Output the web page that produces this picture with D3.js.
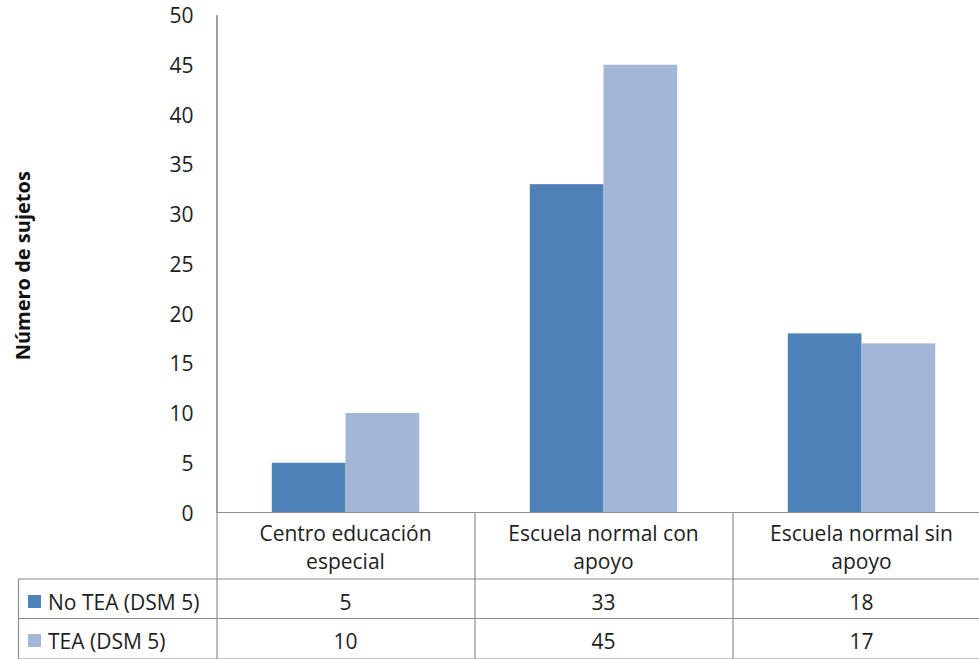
<!DOCTYPE html>
<html>
<head>
<meta charset="utf-8">
<script src="https://cdnjs.cloudflare.com/ajax/libs/d3/7.8.5/d3.min.js"></script>
<style>
  html, body { margin: 0; padding: 0; background: #fff; }
  svg { display: block; font-family: "Open Sans", "Noto Sans", sans-serif; }
</style>
</head>
<body>
<svg id="chart" width="979" height="659"></svg>
<script>
// Data
const categories = [
  ["Centro educación", "especial"],
  ["Escuela normal con", "apoyo"],
  ["Escuela normal sin", "apoyo"]
];
const seriesNames = ["No TEA (DSM 5)", "TEA (DSM 5)"];
const noTEA = [5, 33, 18];
const tea = [10, 45, 17];
const seriesColors = ["#4f81b9", "#a3b6d8"];
const yTicks = [0, 5, 10, 15, 20, 25, 30, 35, 40, 45, 50];

const series = [noTEA, tea];

const svg = d3.select("#chart");
const axisX = 216.5;
const bandW = 258;
const baseY = 512.5;
const topY = 15;
const tableLeft = 18.5;
const rowLines = [579, 618.5, 659];
const gridColor = "#8e8e8e";
const fontSize = 21;
const textColor = "#1e1e1e";

const x = d3.scaleBand()
  .domain(d3.range(categories.length))
  .range([axisX, axisX + bandW * categories.length])
  .paddingInner(0).paddingOuter(0);

const y = d3.scaleLinear().domain([0, 50]).range([baseY, topY]);

// Bars: gap between groups is 150% of a bar width
const barW = x.bandwidth() / 3.5;
const xs = d3.scaleBand().domain(d3.range(series.length))
  .range([0, barW * 2]);

categories.forEach((c, i) => {
  const g = svg.append("g")
    .attr("transform", `translate(${x(i) + (x.bandwidth() - barW * 2) / 2},0)`);
  series.forEach((s, k) => {
    g.append("rect")
      .attr("x", xs(k))
      .attr("width", xs.bandwidth())
      .attr("y", y(s[i]))
      .attr("height", y(0) - y(s[i]))
      .attr("fill", seriesColors[k]);
  });
});

// Y axis
const yAxis = d3.axisLeft(y).tickValues(yTicks).tickSize(0).tickPadding(23);
const ga = svg.append("g").attr("transform", `translate(${axisX},0)`).call(yAxis);
ga.select(".domain").attr("stroke", gridColor).attr("stroke-width", 1.2);
ga.selectAll("text")
  .attr("font-family", "'Open Sans', sans-serif")
  .attr("font-size", fontSize)
  .attr("dy", "0.36em")
  .attr("fill", textColor);

// Y axis title
svg.append("text")
  .attr("transform", `translate(30,${(topY + baseY) / 2 + 2}) rotate(-90)`)
  .attr("text-anchor", "middle")
  .attr("font-size", 20)
  .attr("font-weight", "bold")
  .attr("fill", "#111")
  .text("Número de sujetos");

// Data table
const lineG = svg.append("g").attr("stroke", gridColor).attr("stroke-width", 1.2);
const rightX = x.range()[1];
// baseline / table top
lineG.append("line").attr("x1", axisX).attr("x2", rightX).attr("y1", baseY).attr("y2", baseY);
rowLines.forEach(ry => {
  lineG.append("line").attr("x1", tableLeft).attr("x2", rightX).attr("y1", ry).attr("y2", ry);
});
lineG.append("line").attr("x1", tableLeft).attr("x2", tableLeft).attr("y1", rowLines[0]).attr("y2", 659);
categories.forEach((c, i) => {
  const vx = x(i) + 0.5;
  lineG.append("line").attr("x1", vx).attr("x2", vx)
    .attr("y1", i === 0 ? topY : baseY).attr("y2", 659);
});

// Category headers
categories.forEach((c, i) => {
  const cx = x(i) + x.bandwidth() / 2;
  c.forEach((line, j) => {
    svg.append("text")
      .attr("x", cx).attr("y", 541 + j * 28)
      .attr("text-anchor", "middle")
      .attr("font-size", fontSize)
      .attr("fill", textColor)
      .text(line);
  });
});

// Legend keys + values
const rowBase = [610, 649];
seriesNames.forEach((name, k) => {
  const by = rowBase[k];
  svg.append("rect")
    .attr("x", 28).attr("y", by - 15).attr("width", 13).attr("height", 13)
    .attr("fill", seriesColors[k]);
  svg.append("text")
    .attr("x", 48).attr("y", by)
    .attr("font-size", fontSize)
    .attr("fill", textColor)
    .text(name);
  series[k].forEach((v, i) => {
    svg.append("text")
      .attr("x", x(i) + x.bandwidth() / 2).attr("y", by)
      .attr("text-anchor", "middle")
      .attr("font-size", fontSize)
      .attr("fill", textColor)
      .text(v);
  });
});
</script>
</body>
</html>
